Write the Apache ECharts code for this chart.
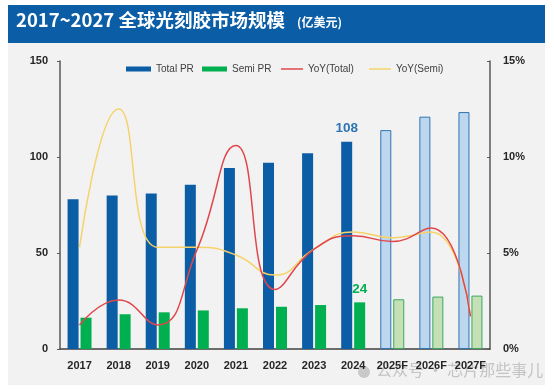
<!DOCTYPE html>
<html>
<head>
<meta charset="utf-8">
<script src="https://cdn.jsdelivr.net/npm/echarts@6/dist/echarts.min.js"></script>
<style>
html,body{margin:0;padding:0;background:#ffffff;}
#chart{width:554px;height:392px;}
</style>
</head>
<body>
<div id="chart"></div>
<script>
var categories = ['2017','2018','2019','2020','2021','2022','2023','2024','2025F','2026F','2027F'];
var totalPR = [78, 80, 81, 85.5, 94.3, 97, 102, 108, 114, 121, 123.4];
var semiPR = [16.3, 18.1, 19.1, 20.1, 21.2, 22, 22.9, 24.3, 25.9, 27.3, 27.8];
var yoyTotal = [1.25, 2.55, 1.25, 5.15, 10.6, 3.1, 5.2, 5.9, 5.6, 6.3, 1.7];
var yoySemi = [5.3, 12.5, 5.3, 5.3, 4.9, 3.85, 5.2, 6.1, 5.8, 6.1, 1.8];
var leftTicks = [0, 50, 100, 150];
var rightTicks = [0, 5, 10, 15];
var forecastFrom = 8;
var labelIndex = 7;

var chart = echarts.init(document.getElementById('chart'));

var totalData = totalPR.map(function (v, i) {
  var d = { value: v };
  if (i >= forecastFrom) d.itemStyle = { color: '#bdd7ee', borderColor: '#2e75b6', borderWidth: 1 };
  if (i === labelIndex) d.label = { show: true, position: 'top', distance: 6, color: '#2e75b6', fontSize: 13.5, fontWeight: 'bold', fontFamily: 'Liberation Sans' };
  return d;
});
var semiData = semiPR.map(function (v, i) {
  var d = { value: v };
  if (i >= forecastFrom) d.itemStyle = { color: '#c5e0b4', borderColor: '#3aa862', borderWidth: 1 };
  if (i === labelIndex) d.label = { show: true, position: 'top', distance: 6, color: '#00b050', fontSize: 13.5, fontWeight: 'bold', fontFamily: 'Liberation Sans', formatter: function (p) { return Math.round(p.value); } };
  return d;
});

function legendItem(name, left, w, h) {
  return {
    data: [name], left: left, top: 59, itemWidth: w, itemHeight: h, icon: 'rect',
    textStyle: { color: '#404040', fontSize: 10, fontFamily: 'Liberation Sans' },
    selectedMode: false
  };
}

var option = {
  animation: false,
  backgroundColor: '#ffffff',
  graphic: [
    { type: 'rect', z: -10, shape: { x: 8, y: 42, width: 537, height: 343 }, style: { fill: '#f2f2f2' } },
    { type: 'rect', z: -9, shape: { x: 8, y: 5, width: 537, height: 38 }, style: { fill: '#0b5ea5' } },
    { type: 'text', left: 16, top: 11, style: { text: '2017~2027 全球光刻胶市场规模', fill: '#ffffff', font: 'bold 18.5px "Noto Sans CJK SC", sans-serif' } },
    { type: 'text', left: 297, top: 16, style: { text: '(亿美元)', fill: '#ffffff', font: 'bold 12px "Noto Sans CJK SC", sans-serif' } },
    { type: 'text', left: 376, top: 362, style: { text: '公众号 · 芯片那些事儿', fill: 'rgba(150,150,150,0.5)', font: '16px "Noto Sans CJK SC", sans-serif' } },
    { type: 'circle', shape: { cx: 364, cy: 372, r: 6 }, style: { fill: 'rgba(150,150,150,0.45)' } }
  ],
  legend: [
    legendItem('Total PR', 121, 25, 5),
    legendItem('Semi PR', 197, 25, 5),
    legendItem('YoY(Total)', 276, 22, 1.5),
    legendItem('YoY(Semi)', 364, 22, 1.5)
  ],
  grid: { left: 60, right: 64, top: 61, bottom: 43, containLabel: false },
  xAxis: {
    type: 'category',
    data: categories,
    boundaryGap: true,
    axisLine: { lineStyle: { color: '#404040', width: 1.5 } },
    axisTick: { show: false },
    axisLabel: { color: '#262626', fontSize: 11, fontWeight: 'bold', fontFamily: 'Liberation Sans', margin: 11, interval: 0 }
  },
  yAxis: [
    {
      type: 'value', min: 0, max: 150, interval: 50,
      axisLine: { show: true, lineStyle: { color: '#595959', width: 1.5 } },
      axisTick: { show: true, length: 3, lineStyle: { color: '#595959' } },
      splitLine: { show: false },
      axisLabel: { color: '#262626', fontSize: 11, fontWeight: 'bold', fontFamily: 'Liberation Sans', margin: 12,
        formatter: function (v) { return leftTicks.indexOf(v) >= 0 ? String(v) : ''; } }
    },
    {
      type: 'value', min: 0, max: 15, interval: 5, position: 'right',
      axisLine: { show: true, lineStyle: { color: '#595959', width: 1.5 } },
      axisTick: { show: true, inside: true, length: 3, lineStyle: { color: '#595959' } },
      splitLine: { show: false },
      axisLabel: { color: '#262626', fontSize: 11, fontWeight: 'bold', fontFamily: 'Liberation Sans', margin: 13,
        formatter: function (v) { return rightTicks.indexOf(v) >= 0 ? v + '%' : ''; } }
    }
  ],
  series: [
    { name: 'Total PR', type: 'bar', data: totalData, barWidth: 11, barGap: '18%', itemStyle: { color: '#0b5ea5' } },
    { name: 'Semi PR', type: 'bar', data: semiData, barWidth: 11, barGap: '18%', itemStyle: { color: '#00b050' } },
    { name: 'YoY(Semi)', type: 'line', yAxisIndex: 1, data: yoySemi, smooth: 0.5, showSymbol: false, symbol: 'none', z: 3,
      lineStyle: { color: '#f6d36a', width: 1.5 }, itemStyle: { color: '#f6d36a' } },
    { name: 'YoY(Total)', type: 'line', yAxisIndex: 1, data: yoyTotal, smooth: 0.5, showSymbol: false, symbol: 'none', z: 4,
      lineStyle: { color: '#e0474c', width: 1.5 }, itemStyle: { color: '#e0474c' } }
  ]
};
chart.setOption(option);
</script>
</body>
</html>
